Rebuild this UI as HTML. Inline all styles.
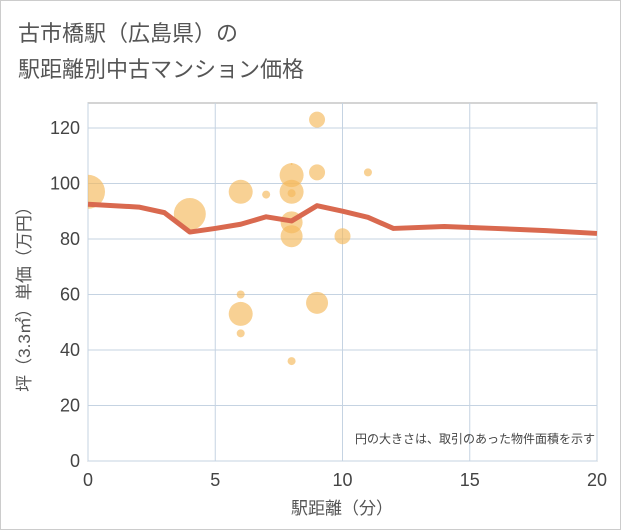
<!DOCTYPE html>
<html><head><meta charset="utf-8"><style>
body{margin:0;background:#fff;font-family:"Liberation Sans","Noto Sans CJK JP",sans-serif}
#wrap{position:relative;width:619px;height:528px;border:1px solid #ccc;background:#fff}
</style></head><body>
<div id="wrap">
<svg id="c" width="621" height="530" style="position:absolute;left:-1px;top:-1px">
<defs><clipPath id="pc"><rect x="88" y="103" width="509" height="358"/></clipPath></defs>
<text x="18" y="41" font-size="22" fill="#555" font-family="Liberation Sans,Noto Sans CJK JP,sans-serif">古市橋駅（広島県）の</text>
<text x="18" y="77" font-size="22" fill="#555" font-family="Liberation Sans,Noto Sans CJK JP,sans-serif">駅距離別中古マンション価格</text>
<g id="grid"></g><g id="bub" clip-path="url(#pc)"></g><g id="ln"></g><g id="ax"></g>
<text x="595" y="443" font-size="12" fill="#444" text-anchor="end" font-family="Liberation Sans,Noto Sans CJK JP,sans-serif">円の大きさは、取引のあった物件面積を示す</text>
<text x="342" y="514" font-size="17" fill="#555" text-anchor="middle" font-family="Liberation Sans,Noto Sans CJK JP,sans-serif">駅距離（分）</text>
<text transform="translate(30,295) rotate(-90)" font-size="17" fill="#555" text-anchor="middle" font-family="Liberation Sans,Noto Sans CJK JP,sans-serif">坪（3.3㎡）単価（万円）</text>
</svg></div>
<script>
const xTicks=[0,5,10,15,20];
const yTicks=[0,20,40,60,80,100,120];
const bubX=[0,4,6,6,6,6,7,8,8,8,8,8,8,8,9,9,9,10,11];
const bubY=[97,89,97,60,53,46,96,107,103,97,96.5,86,81,36,123,104,57,81,104];
const bubR=[17,16,12,4,12,4,4,1,12,12,4,11,11,4,8,8,11,8,4];
const lineX=[0,2,3,4,5,6,7,8,9,10,11,12,14,16,18,20];
const lineY=[92.5,91.5,89.5,82.5,83.8,85.3,88,86.5,92,90,87.8,83.8,84.5,83.8,83,82];
const NS="http://www.w3.org/2000/svg";
const X0=88,X1=597,Y0=461,YT=103;
const sx=v=>X0+(X1-X0)*v/20, sy=v=>Y0-(Y0-YT)*v/129;
function mk(p,t,a){const e=document.createElementNS(NS,t);for(const k in a)e.setAttribute(k,a[k]);document.getElementById(p).appendChild(e);return e;}
let r=mk('grid','rect',{x:X0,y:YT,width:X1-X0,height:Y0-YT,fill:'none',stroke:'#aaa'});


xTicks.forEach(t=>{let l=mk('grid','line',{x1:sx(t),x2:sx(t),y1:YT,y2:Y0,stroke:'#c5d3e2'});


let s=mk('ax','text',{x:sx(t),y:Y0+25,'font-size':18,fill:'#444','text-anchor':'middle'});s.textContent=t;

});
yTicks.forEach(t=>{let l=mk('grid','line',{x1:X0,x2:X1,y1:sy(t),y2:sy(t),stroke:'#c5d3e2'});


let s=mk('ax','text',{x:X0-8,y:sy(t)+6,'font-size':18,fill:'#444','text-anchor':'end'});s.textContent=t;

});
bubX.forEach((v,i)=>{let c=mk('bub','circle',{cx:sx(v),cy:sy(bubY[i]),r:bubR[i],fill:'#f4b95a','fill-opacity':0.65});

});
let p=mk('ln','polyline',{points:lineX.map((v,i)=>sx(v)+','+sy(lineY[i])).join(' '),fill:'none',stroke:'#d9694f','stroke-width':5,'stroke-linejoin':'round'});


</script></body></html>
